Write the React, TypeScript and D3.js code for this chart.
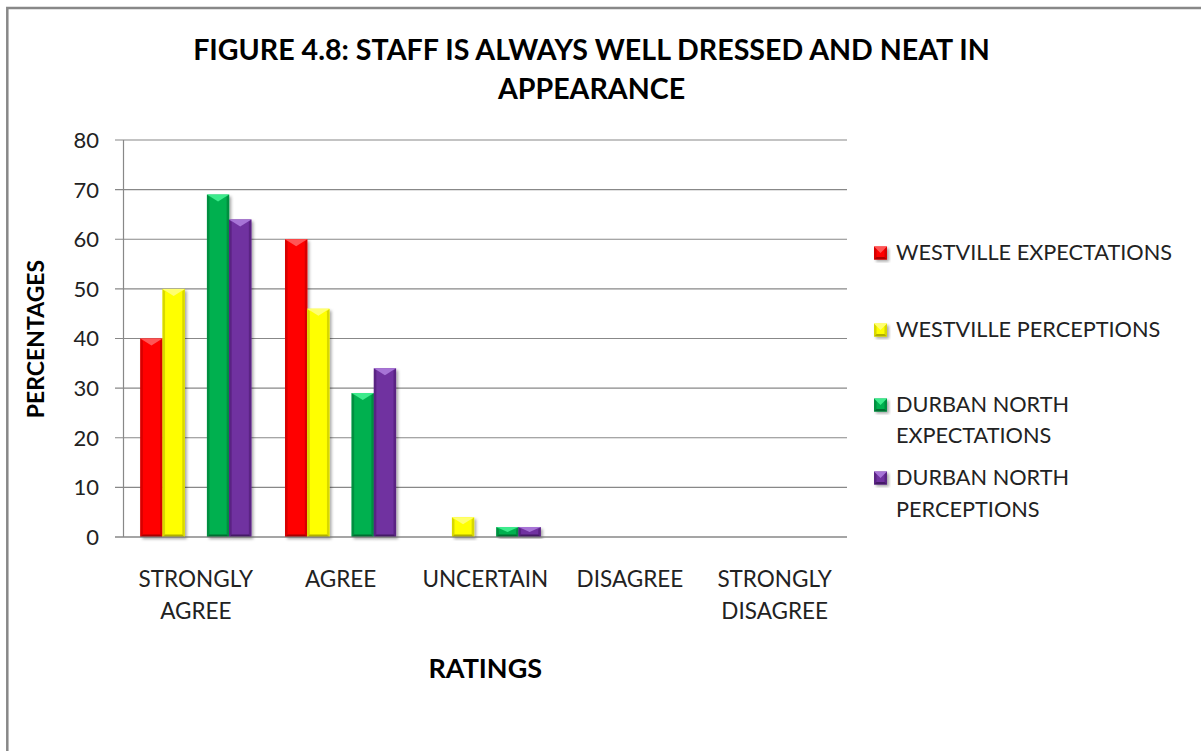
import React from "react";
import * as d3 from "d3";

const categories = ["STRONGLY|AGREE", "AGREE", "UNCERTAIN", "DISAGREE", "STRONGLY|DISAGREE"];
const seriesNames = [
  "WESTVILLE EXPECTATIONS",
  "WESTVILLE PERCEPTIONS",
  "DURBAN NORTH|EXPECTATIONS",
  "DURBAN NORTH|PERCEPTIONS",
];
const westvilleExpectations = [40, 60, 0, 0, 0];
const westvillePerceptions = [50, 46, 4, 0, 0];
const durbanNorthExpectations = [69, 29, 2, 0, 0];
const durbanNorthPerceptions = [64, 34, 2, 0, 0];
const yTicks = [0, 10, 20, 30, 40, 50, 60, 70, 80];
// slot of each series inside a cluster (slot 2 is an empty series)
const seriesSlots = [0, 1, 3, 4];

const seriesValues = [westvilleExpectations, westvillePerceptions, durbanNorthExpectations, durbanNorthPerceptions];
const colors = [
  { base: "#FF0000", top: "#FF5555", side: "#D60000", bottom: "#A80000" },
  { base: "#FFFF00", top: "#FFFF70", side: "#D8D800", bottom: "#B0B000" },
  { base: "#00B050", top: "#3DEB8C", side: "#008F40", bottom: "#006E31" },
  { base: "#7030A0", top: "#A774D6", side: "#5A2383", bottom: "#451A66" },
];

const FONT = "Lato, 'Open Sans', sans-serif";

function Bar({ x, y, w, h, c }: { x: number; y: number; w: number; h: number; c: any }) {
  if (h <= 0) return null;
  const s = Math.min(2.5, h / 3);
  const d = Math.min(7, h / 2);
  return (
    <g>
      <rect x={x} y={y} width={w} height={h} fill={c.base} filter="url(#shadow)" />
      <polygon points={`${x},${y} ${x + s},${y + s} ${x + s},${y + h - s} ${x},${y + h}`} fill={c.side} />
      <polygon points={`${x + w},${y} ${x + w - s},${y + s} ${x + w - s},${y + h - s} ${x + w},${y + h}`} fill={c.side} />
      <polygon points={`${x},${y + h} ${x + s},${y + h - s} ${x + w - s},${y + h - s} ${x + w},${y + h}`} fill={c.bottom} />
      <polygon points={`${x},${y} ${x + w},${y} ${x + w / 2},${y + d}`} fill={c.top} />
    </g>
  );
}

export default function App() {
  const W = 1201, H = 751;
  const plotLeft = 123.5, plotRight = 847, plotTop = 140, plotBottom = 537;
  const x0 = d3.scaleBand<string>().domain(categories).range([plotLeft, plotRight]).paddingInner(0.233).paddingOuter(0.1165);
  const x1 = d3.scaleBand<number>().domain([0, 1, 2, 3, 4]).range([0, x0.bandwidth()]);
  const y = d3.scaleLinear().domain([0, 80]).range([plotBottom, plotTop]);

  const legendRows = [
    { baselines: [260] },
    { baselines: [337] },
    { baselines: [412, 443] },
    { baselines: [485, 517] },
  ];

  return (
    <svg width={W} height={H} style={{ position: "absolute", left: 0, top: 0, background: "#fff" }} fontFamily={FONT}>
      <defs>
        <filter id="shadow" x="-30%" y="-10%" width="160%" height="130%">
          <feDropShadow dx="2" dy="2" stdDeviation="1.8" floodColor="#000" floodOpacity="0.35" />
        </filter>
      </defs>
      <rect x={0} y={0} width={W} height={H} fill="#fff" />
      <rect x={7.3} y={8} width={1300} height={900} fill="none" stroke="#888" strokeWidth={2.5} />

      {/* title */}
      <text x={591.5} y={60} textAnchor="middle" fontWeight="bold" fontSize={28.6} fill="#000">
        FIGURE 4.8: STAFF IS ALWAYS WELL DRESSED AND NEAT IN
      </text>
      <text x={591.5} y={99} textAnchor="middle" fontWeight="bold" fontSize={28.6} fill="#000">
        APPEARANCE
      </text>

      {/* gridlines & y ticks */}
      {yTicks.map((t) => (
        <g key={t}>
          <line x1={115} x2={plotRight} y1={y(t)} y2={y(t)} stroke="#888" strokeWidth={1.2} />
          <text x={99} y={y(t)} dy="0.36em" textAnchor="end" fontSize={22} fill="#222">
            {t}
          </text>
        </g>
      ))}
      <line x1={plotLeft} x2={plotLeft} y1={plotTop} y2={plotBottom} stroke="#888" strokeWidth={1.2} />

      {/* bars */}
      {seriesValues.map((vals, si) =>
        vals.map((v, ci) => {
          const bx = (x0(categories[ci]) as number) + (x1(seriesSlots[si]) as number);
          return <Bar key={`${si}-${ci}`} x={bx} y={y(v)} w={x1.bandwidth()} h={plotBottom - y(v)} c={colors[si]} />;
        })
      )}
      <line x1={115} x2={plotRight} y1={plotBottom} y2={plotBottom} stroke="#888" strokeWidth={1.2} />

      {/* category labels */}
      {categories.map((c) => {
        const cx = (x0(c) as number) + x0.bandwidth() / 2;
        return c.split("|").map((line, i) => (
          <text key={c + i} x={cx} y={587 + i * 32} textAnchor="middle" fontSize={22.5} fill="#222">
            {line}
          </text>
        ));
      })}

      {/* axis titles */}
      <text x={(plotLeft + plotRight) / 2} y={678} textAnchor="middle" fontWeight="bold" fontSize={27} fill="#000">
        RATINGS
      </text>
      <text transform={`translate(44,339) rotate(-90)`} textAnchor="middle" fontWeight="bold" fontSize={23} fill="#000">
        PERCENTAGES
      </text>

      {/* legend */}
      {seriesNames.map((name, i) => {
        const rows = name.split("|");
        const b0 = legendRows[i].baselines[0];
        const c = colors[i];
        return (
          <g key={name}>
            <Bar x={874} y={b0 - 13.5} w={13} h={13} c={c} />
            {rows.map((r, j) => (
              <text key={j} x={896} y={legendRows[i].baselines[j]} fontSize={21.7} fill="#222">
                {r}
              </text>
            ))}
          </g>
        );
      })}
    </svg>
  );
}
